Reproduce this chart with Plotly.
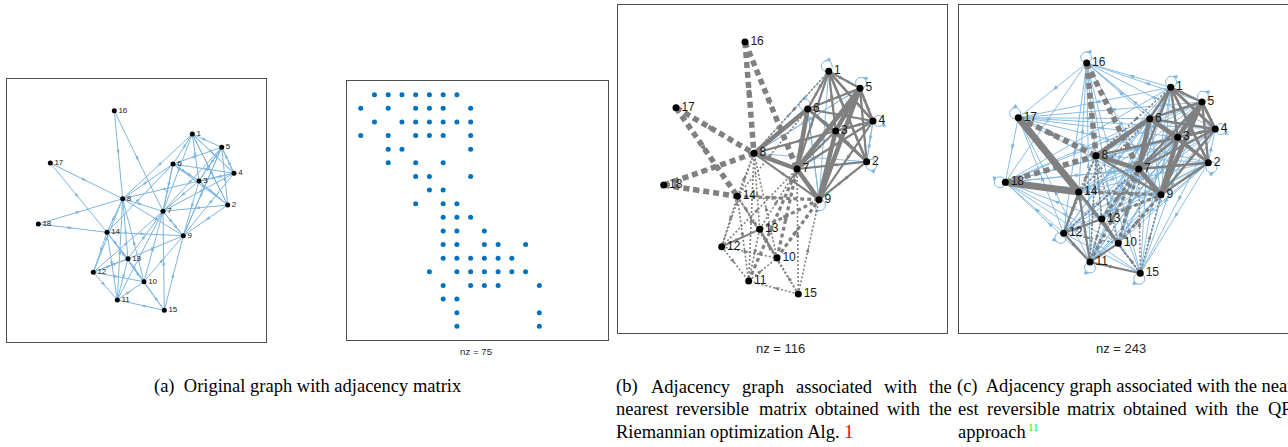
import numpy as np
import plotly.graph_objects as go

W, H = 1288, 447

# ---------------- data ----------------
node_labels = [str(k) for k in range(1, 19)]

# original adjacency: row i -> nonzero columns
A_cols = [
    [2, 3, 4, 5, 6, 7, 8],
    [1, 3, 5, 6, 7, 9],
    [2, 4, 5, 6, 7, 8, 9],
    [1, 3, 5, 6, 7, 9],
    [3, 4, 9],
    [3, 5, 7],
    [5, 6, 9],
    [6, 7],
    [5, 7, 8],
    [7, 8, 9],
    [7, 8, 10],
    [7, 8, 10, 11, 13],
    [7, 8, 9, 10, 11, 12],
    [6, 8, 9, 10, 11, 12, 13],
    [7, 9, 10, 11, 14],
    [7, 8],
    [8, 14],
    [8, 14],
]

# graph layouts (panel-local units)
posA_x = [185.3, 220.7, 192.0, 227.0, 214.7, 166.0, 156.0, 115.7, 176.3, 137.0, 110.3, 86.3, 121.0, 100.0, 157.3, 107.3, 43.3, 31.3]
posA_y = [208.0, 137.0, 161.0, 168.7, 194.7, 178.0, 130.7, 143.3, 106.3, 60.3, 42.0, 69.7, 83.3, 109.7, 31.7, 231.3, 179.0, 118.0]

posB_x = [211.2, 249.2, 218.2, 255.5, 242.5, 190.2, 179.5, 136.5, 201.5, 159.5, 131.2, 104.2, 142.2, 119.8, 180.8, 127.5, 58.5, 46.2]
posB_y = [261.7, 171.3, 202.0, 212.0, 244.7, 224.0, 164.0, 179.7, 133.3, 75.0, 52.0, 86.3, 103.7, 136.7, 39.0, 291.0, 225.3, 148.0]

posC_x = [211.7, 249.3, 218.7, 256.3, 243.0, 190.7, 179.7, 137.0, 202.0, 159.3, 131.0, 104.7, 142.7, 119.7, 181.3, 127.7, 59.3, 46.3]
posC_y = [245.7, 170.3, 195.7, 204.0, 231.0, 214.3, 164.0, 177.3, 138.3, 89.7, 71.0, 99.7, 114.0, 141.0, 59.7, 270.0, 215.3, 150.7]

# panel (b): reversible matrix via Riemannian optimization
b_blue = [(8, 1), (8, 2), (8, 3), (8, 4), (8, 5), (8, 9), (6, 1), (6, 2), (6, 4), (6, 9),
          (7, 1), (7, 2), (7, 4), (7, 8), (5, 1), (5, 2), (5, 6), (5, 8), (9, 1), (9, 2),
          (9, 3), (9, 4), (4, 2), (3, 1), (2, 4), (6, 8), (9, 6), (5, 7)]
b_loops = [1, 5, 4, 2, 9, 6]
b_heavy = [(8, 7), (7, 9), (8, 6), (6, 7), (5, 9), (5, 3), (5, 7), (3, 9)]
b_dash_thick = [(16, 8), (16, 7), (17, 8), (17, 14), (18, 8), (18, 14)]
b_dash_med = [(10, 7), (10, 9), (11, 7), (13, 9), (14, 9)]
b_solid_low = [(12, 13), (13, 10)]
b_dot = [(1, 8), (10, 8), (11, 8), (11, 10), (12, 7), (12, 8), (12, 10), (12, 11), (13, 7),
         (13, 8), (13, 11), (14, 6), (14, 8), (14, 10), (14, 11), (14, 12), (14, 13),
         (15, 7), (15, 9), (15, 10), (15, 11), (15, 14)]

# panel (c): reversible matrix via QP
c_blue_rows = {
    1: [9, 10, 11, 12, 13, 14, 15, 16, 17, 18],
    2: [4, 8, 10, 11, 12, 13, 14, 15, 16, 17, 18],
    3: [10, 11, 12, 13, 14, 15, 16, 17, 18],
    4: [8, 10, 11, 12, 13, 14, 15, 16, 17, 18],
    5: [6, 7, 8, 10, 11, 12, 13, 14, 15, 16, 17, 18],
    6: [8, 9, 10, 11, 12, 13, 15, 16, 17, 18],
    7: [10, 11, 12, 13, 14, 17, 18],
    8: [11, 12, 13, 15],
    9: [10, 11, 12, 14, 16, 17, 18],
    10: [14, 16, 17, 18],
    11: [13, 14, 16, 17, 18],
    12: [14, 15, 16, 17, 18],
    13: [14, 15, 16, 17, 18],
    14: [15, 16],
    15: [16, 17, 18],
    16: [17, 18],
    17: [18],
}
c_loops = [16, 1, 5, 4, 2, 17, 18, 12, 11, 15]
c_heavy = [(8, 7), (7, 9), (8, 6), (6, 3), (5, 3), (5, 9), (3, 9), (6, 7)]
c_very_heavy = [(17, 14), (18, 14)]
c_dash_thick = [(16, 8), (16, 7), (17, 8), (18, 8)]
c_dash_med = [(10, 7), (10, 9), (11, 7), (13, 9), (13, 7), (14, 9)]
c_solid_low = [(12, 13), (13, 10), (12, 11), (11, 10), (11, 15), (14, 12), (14, 10), (14, 11)]
c_dot = [(1, 8), (10, 8), (11, 8), (12, 7), (12, 8), (12, 10), (13, 8), (13, 11),
         (14, 6), (14, 8), (14, 13), (15, 7), (15, 9), (15, 10), (15, 14)]

nz_labels = ["nz = 75", "nz = 116", "nz = 243"]

# ---------------- styling ----------------
BLUE = "#7DB6E0"
GRAY = "#808080"
SPY = "#0072BD"
SANS = "Liberation Sans, Arial, sans-serif"
SERIF = "Liberation Serif, Times New Roman, serif"

# panel boxes in pixels: (left, top, right, bottom)
boxes = {
    "a": (7.0, 78.5, 266.0, 342.0),
    "s": (347.0, 81.0, 608.0, 340.0),
    "b": (617.5, 5.0, 946.5, 333.0),
    "c": (959.0, 5.0, 1288.0, 333.0),
}
axis_ids = {"a": ("x", "y"), "s": ("x2", "y2"), "b": ("x3", "y3"), "c": ("x4", "y4")}

fig = go.Figure()


def add_edges(key, px, py, pairs, color, width, dash=None, asize=6, arrows=True):
    xa, ya = axis_ids[key]
    xs, ys, mx, my, ang = [], [], [], [], []
    for i, j in pairs:
        x0, y0 = px[i - 1], py[i - 1]
        x1, y1 = px[j - 1], py[j - 1]
        xs += [x0, x1, None]
        ys += [y0, y1, None]
        mx.append((x0 + x1) / 2)
        my.append((y0 + y1) / 2)
        ang.append(float(np.degrees(np.arctan2(x1 - x0, y1 - y0))))
    fig.add_trace(go.Scatter(x=xs, y=ys, mode="lines", xaxis=xa, yaxis=ya,
                             line=dict(color=color, width=width, dash=dash),
                             hoverinfo="skip", showlegend=False))
    if arrows:
        fig.add_trace(go.Scatter(x=mx, y=my, mode="markers", xaxis=xa, yaxis=ya,
                                 marker=dict(symbol="arrow", size=asize, angle=ang, color=color,
                                             line=dict(width=0)),
                                 hoverinfo="skip", showlegend=False))


def add_loops(key, px, py, nodes, directions, color, r=5.5):
    xa, ya = axis_ids[key]
    xs, ys, mx, my, ang = [], [], [], [], []
    t = np.linspace(0, 2 * np.pi, 30)
    for n in nodes:
        d = np.radians(directions.get(n, 90))
        cx = px[n - 1] + r * np.cos(d)
        cy = py[n - 1] + r * np.sin(d)
        xs += list(cx + r * np.cos(t)) + [None]
        ys += list(cy + r * np.sin(t)) + [None]
        mx.append(cx + r * np.cos(d))
        my.append(cy + r * np.sin(d))
        ang.append(-float(np.degrees(d)))
    fig.add_trace(go.Scatter(x=xs, y=ys, mode="lines", xaxis=xa, yaxis=ya,
                             line=dict(color=color, width=1), hoverinfo="skip", showlegend=False))
    fig.add_trace(go.Scatter(x=mx, y=my, mode="markers", xaxis=xa, yaxis=ya,
                             marker=dict(symbol="arrow", size=6, angle=ang, color=color, line=dict(width=0)),
                             hoverinfo="skip", showlegend=False))


def add_nodes(key, px, py, msize, fsize):
    xa, ya = axis_ids[key]
    fig.add_trace(go.Scatter(x=px, y=py, mode="markers+text", xaxis=xa, yaxis=ya,
                             text=node_labels, textposition="middle right",
                             textfont=dict(family=SANS, size=fsize, color="#1a1a1a"),
                             marker=dict(color="black", size=msize, line=dict(width=0)),
                             hoverinfo="skip", showlegend=False, cliponaxis=False))


# ---- panel (a): original graph
A_edges = [(i + 1, j) for i, cols in enumerate(A_cols) for j in cols]
add_edges("a", posA_x, posA_y, A_edges, BLUE, 1.0, asize=5)
add_nodes("a", posA_x, posA_y, 5, 8)

# ---- spy plot
spy_x = [j for i, cols in enumerate(A_cols) for j in cols]
spy_y = [i + 1 for i, cols in enumerate(A_cols) for j in cols]
fig.add_trace(go.Scatter(x=spy_x, y=spy_y, mode="markers", xaxis="x2", yaxis="y2",
                         marker=dict(color=SPY, size=5, line=dict(width=0)),
                         hoverinfo="skip", showlegend=False))

# ---- panel (b)
b_loop_dir = {1: 110, 5: 80, 4: 0, 2: -35, 9: -80, 6: 125}
add_edges("b", posB_x, posB_y, b_blue, BLUE, 0.9, asize=6)
add_loops("b", posB_x, posB_y, b_loops, b_loop_dir, BLUE)
b_cluster = [(i, j) for (i, j) in A_edges if i <= 9 and j <= 9 and (i, j) != (1, 8)]
add_edges("b", posB_x, posB_y, b_cluster, GRAY, 2.2, asize=6)
add_edges("b", posB_x, posB_y, b_heavy, GRAY, 4.5, arrows=False)
add_edges("b", posB_x, posB_y, b_dot, GRAY, 1.6, dash="2px,2px", asize=6)
add_edges("b", posB_x, posB_y, b_solid_low, GRAY, 2.0, asize=6)
add_edges("b", posB_x, posB_y, b_dash_med, GRAY, 3.2, dash="4px,3px", asize=7)
add_edges("b", posB_x, posB_y, b_dash_thick, GRAY, 5.5, dash="6px,4px", asize=8)
add_nodes("b", posB_x, posB_y, 7, 12)

# ---- panel (c)
c_blue = [(i, j) for i, js in c_blue_rows.items() for j in js]
c_loop_dir = {16: 95, 1: 85, 5: 80, 4: 0, 2: -55, 17: 125, 18: 180, 12: -125, 11: -90, 15: -100}
add_edges("c", posC_x, posC_y, c_blue, BLUE, 0.9, asize=6)
add_loops("c", posC_x, posC_y, c_loops, c_loop_dir, BLUE)
c_cluster = [(i, j) for (i, j) in A_edges if i <= 9 and j <= 9 and (i, j) != (1, 8)]
add_edges("c", posC_x, posC_y, c_cluster, GRAY, 2.4, asize=6)
add_edges("c", posC_x, posC_y, c_heavy, GRAY, 4.5, arrows=False)
add_edges("c", posC_x, posC_y, c_very_heavy, GRAY, 7, arrows=False)
add_edges("c", posC_x, posC_y, c_dot, GRAY, 1.6, dash="2px,2px", asize=6)
add_edges("c", posC_x, posC_y, c_solid_low, GRAY, 2.2, asize=6)
add_edges("c", posC_x, posC_y, c_dash_med, GRAY, 3.2, dash="4px,3px", asize=7)
add_edges("c", posC_x, posC_y, c_dash_thick, GRAY, 5.5, dash="6px,4px", asize=8)
add_nodes("c", posC_x, posC_y, 7, 12)

# ---------------- axes ----------------
layout_axes = {}
for key, (l, t, r, b) in boxes.items():
    xa, ya = axis_ids[key]
    xname = "xaxis" if xa == "x" else "xaxis" + xa[1:]
    yname = "yaxis" if ya == "y" else "yaxis" + ya[1:]
    common = dict(showgrid=False, zeroline=False, showticklabels=False, ticks="",
                  showline=True, mirror=True, linecolor="#4d4d4d", linewidth=1, fixedrange=True)
    if key == "s":
        xr, yr = [0, 19], [19, 0]
    else:
        xr, yr = [0, r - l], [0, b - t]
    layout_axes[xname] = dict(domain=[l / W, min(r / W, 1.0)], range=xr, anchor=ya, **common)
    layout_axes[yname] = dict(domain=[1 - b / H, 1 - t / H], range=yr, anchor=xa, **common)

fig.update_layout(width=W, height=H, margin=dict(l=0, r=0, t=0, b=0),
                  paper_bgcolor="white", plot_bgcolor="white", showlegend=False, **layout_axes)


def ann(text, x, y, size, family, color="black", xanchor="left"):
    fig.add_annotation(text=text, x=x / W, y=1 - y / H, xref="paper", yref="paper",
                       xanchor=xanchor, yanchor="middle", showarrow=False,
                       font=dict(size=size, family=family, color=color))


# nz labels
ann(nz_labels[0], 476, 351, 9.7, SANS, "#262626", "center")
ann(nz_labels[1], 780, 348.3, 13, SANS, "#262626", "center")
ann(nz_labels[2], 1121, 348.3, 13, SANS, "#262626", "center")

# captions
CS = 18.5
ann("(a)\u00a0 Original graph with adjacency matrix", 152, 386.5, CS, SERIF)
for w, x in zip(["(b)", "Adjacency", "graph", "associated", "with", "the"],
                [614, 649, 739.5, 794, 882, 927]):
    ann(w, x, 386.5, CS, SERIF)
for w, x in zip(["nearest", "reversible", "matrix", "obtained", "with", "the"],
                [614, 674, 757, 813, 884.5, 926.5]):
    ann(w, x, 409.3, CS, SERIF)
ann("Riemannian optimization Alg. <span style='color:#ff0000'>1</span>", 614, 432, CS, SERIF)
ann("(c)\u00a0 Adjacency graph associated with the near", 955, 386.5, CS, SERIF)
for w, x in zip(["est", "reversible", "matrix", "obtained", "with", "the", "QP"],
                [955.5, 984.5, 1065, 1121, 1193, 1234, 1266]):
    ann(w, x, 409.3, CS, SERIF)
ann("approach", 955.5, 432, CS, SERIF)
ann("11", 1026, 427, 11, SERIF, "#00ff00")

fig.write_html("out.html")
